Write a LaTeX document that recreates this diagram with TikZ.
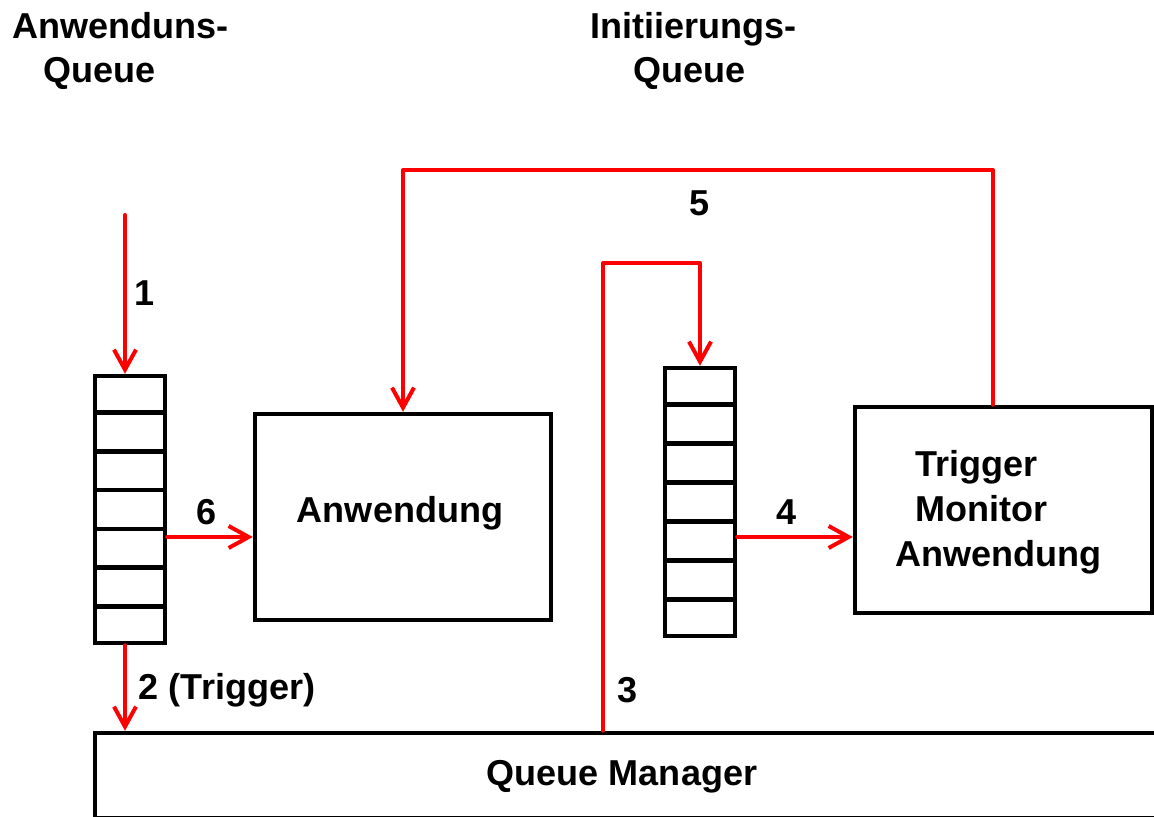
\documentclass[tikz,border=0pt]{standalone}
\usepackage{fontspec}
\setmainfont{Liberation Sans}
\usetikzlibrary{arrows.meta,calc}

\begin{document}
\begin{tikzpicture}[x=0.02cm, y=-0.02cm,
		box/.style={draw, line width=0.09cm, inner sep=0pt},
		flow/.style={draw=red, line width=0.08cm, line cap=round, line join=round,
			-{Straight Barb[length=0.4cm, width=0.44cm, line width=0.08cm]}},
		lbl/.style={inner sep=0pt, font=\fontsize{20.5}{25.6}\selectfont\bfseries}]
		%%%%% START %%%%%
		
		\useasboundingbox (0, 0) rectangle (1154, 817);
		\clip (0, 0) rectangle (1154, 817);
		
		% titles
		\node[lbl, align=left, anchor=west] (aqtitle) at (12, 51) {Anwenduns-\\\hspace*{0.62cm}Queue};
		\node[lbl, align=left, anchor=west] (iqtitle) at (590, 51) {Initiierungs-\\\hspace*{0.86cm}Queue};
		
		% queues
		\node[box, minimum width=1.4cm, minimum height=5.34cm] (aq) at (130, 509.5) {};
		\node[box, minimum width=1.4cm, minimum height=5.36cm] (rq) at (700, 502) {};
		\foreach \q in {aq, rq}
			\foreach \i in {1,...,6}
				\draw[box] ($(\q.north west)!\i/7!(\q.south west)$) -- ($(\q.north east)!\i/7!(\q.south east)$);
		
		% boxes
		\node[box, minimum width=5.92cm, minimum height=4.12cm] (an) at (403, 517) {};
		\node[lbl] (antext) at (400, 513) {Anwendung};
		\node[box, minimum width=5.94cm, minimum height=4.12cm] (tm) at (1003.5, 510) {};
		\node[lbl, align=left, anchor=west] (tmtext) at (895, 512) {\hspace*{0.4cm}Trigger\\\hspace*{0.4cm}Monitor\\Anwendung};
		\node[box, minimum width=22cm, minimum height=1.7cm] (qm) at (645, 775.5) {};
		\node[lbl] (qmtext) at (622, 777) {Queue Manager};
		
		% connectors
		\coordinate (in1) at (125, 215);
		\draw[flow] (in1) -- (in1 |- aq.north);
		\node[lbl] (l1) at (145, 293) {1};
		
		\coordinate (s2) at (aq.south -| in1);
		\draw[flow] (s2) -- (s2 |- qm.north);
		\node[lbl] (l2) at (227, 690) {2 (Trigger)};
		
		\coordinate (s3) at (603, 263);
		\draw[flow] (s3 |- qm.north) -- (s3) -| (rq.north);
		\node[lbl] (l3) at (628, 690) {3};
		
		\coordinate (s4) at ($(rq.east)+(0, 35)$);
		\draw[flow] (s4) -- (s4 -| tm.west);
		\node[lbl] (l4) at (787, 512) {4};
		
		\coordinate (s5) at (993, 170);
		\draw[flow] (tm.north -| s5) -- (s5) -| (an.north);
		\node[lbl] (l5) at (700, 203) {5};
		
		\coordinate (s6) at ($(aq.east)+(0, 27.5)$);
		\draw[flow] (s6) -- (s6 -| an.west);
		\node[lbl] (l6) at (207, 512) {6};
		
		%%%%% END %%%%%
	\end{tikzpicture}
\end{document}
